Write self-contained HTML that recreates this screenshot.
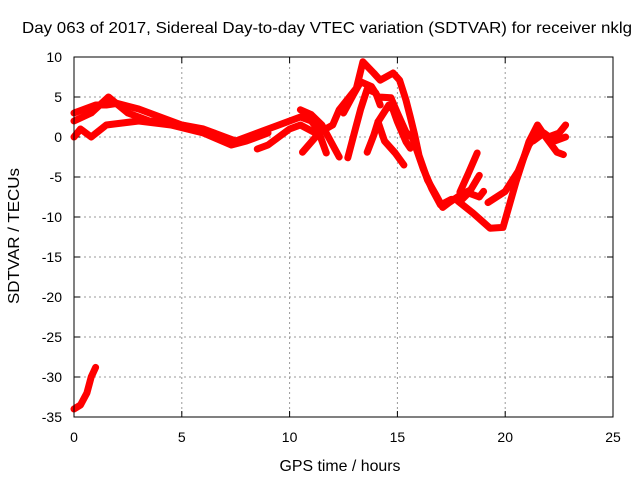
<!DOCTYPE html>
<html><head><meta charset="utf-8"><style>
body{margin:0;background:#fff}
svg text{font-family:"Liberation Sans",Arial,sans-serif;font-size:14px;fill:#000}
svg text.big{font-size:16px}
</style></head><body>
<svg width="640" height="480">
<text class="big" x="327" y="33" text-anchor="middle" textLength="610" lengthAdjust="spacingAndGlyphs">Day 063 of 2017, Sidereal Day-to-day VTEC variation (SDTVAR) for receiver nklg</text>
<text class="big" x="340" y="471" text-anchor="middle" textLength="121" lengthAdjust="spacingAndGlyphs">GPS time / hours</text>
<text class="big" transform="translate(19,236) rotate(-90)" text-anchor="middle" textLength="136" lengthAdjust="spacingAndGlyphs">SDTVAR / TECUs</text>
<g id="grid"></g>
<g id="axes"></g>
<g id="series"></g>
<rect x="74" y="57" width="539" height="360" fill="none" stroke="#000"/>
</svg>
<script>
const xTicks=[0,5,10,15,20,25];
const yTicks=[-35,-30,-25,-20,-15,-10,-5,0,5,10];
const t1h=[0,0.5,1,1.5,2,3,4,4.5,5,6,7,7.5,8,9,10,10.5,11,11.3,11.7];
const t1v=[3,3.5,4,4,4.2,3.5,2.5,2,1.5,1,0,-0.5,0,1,2,2.5,2,1,-2];
const t2h=[0,0.3,0.8,1.5,3,4.5,6,7.3,8,9];
const t2v=[0,1,0,1.5,2,1.5,0.5,-1,-0.5,0.5];
const t3h=[0,0.8,1.6,2.5,3.5,5,6.5];
const t3v=[2,3,5,3,2,1.5,0.5];
const t4h=[8.5,9,9.5,10,10.5,11.2];
const t4v=[-1.5,-1,0,1,1.5,0.5];
const t5h=[10.5,11,11.5,12,12.3];
const t5v=[3.4,2.8,1.5,-1,-2.5];
const t6h=[10.6,11.4,12,12.3,13.1,13.4,13.9,14.2,14.4,14.8,15.1,15.4,15.6,15.8,16,16.4,16.8,17.1,17.4,17.9,18.4,18.8];
const t6v=[-1.9,0.6,1.5,3.4,6.1,9.4,8,7.1,7.4,8,7.1,4.6,2.5,0.3,-2.3,-5.4,-7.3,-8.8,-8.2,-7.3,-6.6,-4.8];
const t7h=[12.5,13,13.3,13.8,14.1,14.7,15,15.4,15.7,16.2,16.6,17,17.5,18,18.3,18.8,19];
const t7v=[3,5.5,6.9,6.3,5,4.9,3,0.6,-0.1,-4,-6.5,-8.5,-7.8,-7.8,-7,-7.5,-6.8];
const t8h=[12.7,13,13.3,13.6,14,14.2];
const t8v=[-2.6,0.5,3.5,6,5.5,4];
const t9h=[13.6,13.9,14.1,14.6,14.8,15,15.4,15.6];
const t9v=[-1.9,0.2,1.9,4,3.4,1.9,-0.6,-1.4];
const t10h=[14.1,14.4,14.9,15.3];
const t10v=[1.9,-0.5,-2,-3.5];
const t11h=[17.9,18.3,18.7];
const t11v=[-6.9,-4.5,-2];
const t12h=[17.8,18.5,19.3,19.9,20.5,21.1,21.5,21.9,22.4,22.7];
const t12v=[-8,-9.5,-11.4,-11.3,-5.6,-0.6,1.5,-0.1,-1.9,-2.2];
const t13h=[19.2,20,20.6,21.1,21.5,22,22.5,22.8];
const t13v=[-8.2,-6.8,-4.3,-1,0.5,0,0.5,1.5];
const t14h=[21.3,21.8,22.3,22.8];
const t14v=[-0.5,0.5,-0.5,0];
const t15h=[0,0.3,0.6,0.8,1];
const t15v=[-34,-33.5,-32,-30,-28.8];
const tracks=[[t1h,t1v],[t2h,t2v],[t3h,t3v],[t4h,t4v],[t5h,t5v],[t6h,t6v],[t7h,t7v],[t8h,t8v],[t9h,t9v],[t10h,t10v],[t11h,t11v],[t12h,t12v],[t13h,t13v],[t14h,t14v],[t15h,t15v]];
const X=h=>74+h*539/25, Y=v=>57+(10-v)*8;
const NS="http://www.w3.org/2000/svg";
const grid=document.getElementById('grid'),axes=document.getElementById('axes'),ser=document.getElementById('series');
function mk(tag,at,parent){const e=document.createElementNS(NS,tag);for(const k in at)e.setAttribute(k,at[k]);parent.appendChild(e);return e;}
xTicks.forEach(t=>{const x=X(t);
 if(t>0&&t<25){const g=mk('line',{x1:x,x2:x,y1:57,y2:417,stroke:'#999','stroke-dasharray':'2,3'},grid);}
 const a=mk('line',{x1:x,x2:x,y1:417,y2:411,stroke:'#000'},axes);
 const b=mk('line',{x1:x,x2:x,y1:57,y2:63,stroke:'#000'},axes);
 const l=mk('text',{x:x,y:442,'text-anchor':'middle'},axes);l.textContent=t;});
yTicks.forEach(t=>{const y=Y(t);
 if(t>-35&&t<10){const g=mk('line',{x1:74,x2:613,y1:y,y2:y,stroke:'#999','stroke-dasharray':'2,3'},grid);}
 const a=mk('line',{x1:74,x2:80,y1:y,y2:y,stroke:'#000'},axes);
 const b=mk('line',{x1:607,x2:613,y1:y,y2:y,stroke:'#000'},axes);
 const l=mk('text',{x:62,y:y+5,'text-anchor':'end'},axes);l.textContent=t;});
tracks.forEach(([hs,vs])=>{
 const pts=hs.map((h,i)=>X(h).toFixed(1)+','+Y(vs[i]).toFixed(1)).join(' ');
 const p=mk('polyline',{points:pts,fill:'none',stroke:'#f00','stroke-width':7,'stroke-linejoin':'round','stroke-linecap':'round'},ser);
 
 
});
</script>
</body></html>
